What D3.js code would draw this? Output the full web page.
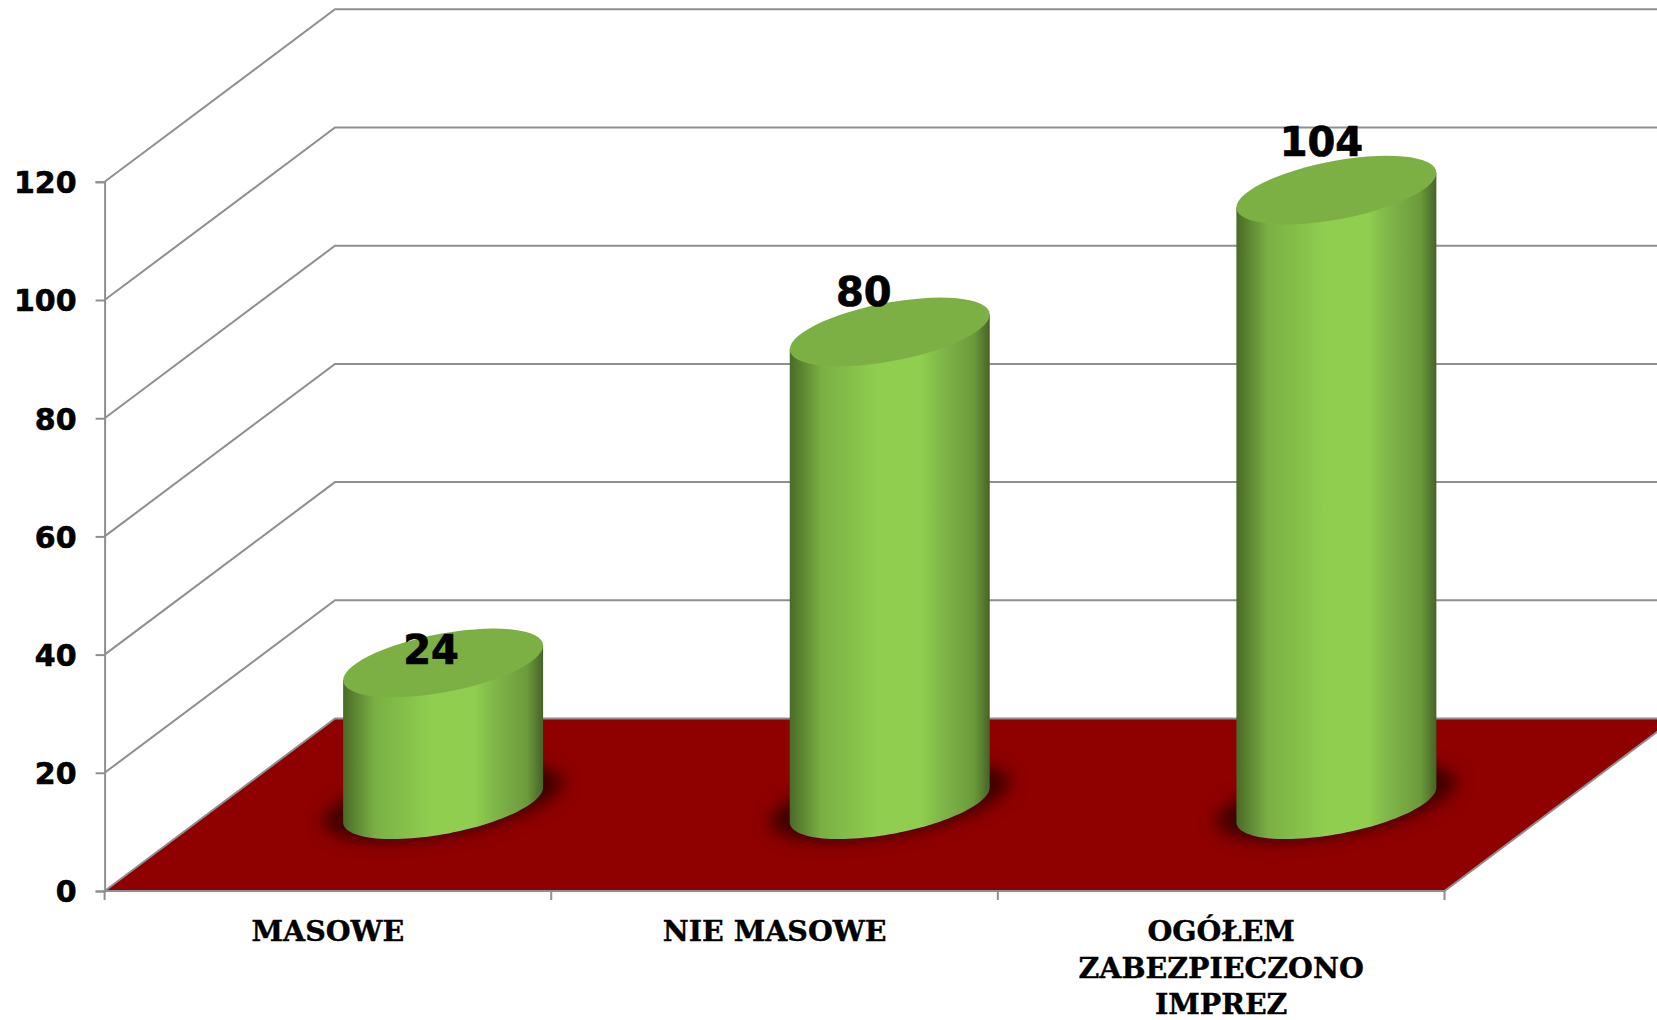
<!DOCTYPE html>
<html>
<head>
<meta charset="utf-8">
<script src="https://cdn.jsdelivr.net/npm/d3@7"></script>
<style>
    html, body { margin: 0; padding: 0; background: #fff; overflow: hidden; }
    .ylab { font-family: "DejaVu Sans"; font-weight: bold; font-size: 30px; stroke: #000; stroke-width: 0.6px; }
    .xlab { font-family: "DejaVu Serif"; font-weight: bold; font-size: 28.5px; stroke: #000; stroke-width: 0.4px; }
    .vlab { font-family: "DejaVu Sans"; font-weight: bold; font-size: 40px; stroke: #000; stroke-width: 0.7px; }
</style>
</head>
<body>
<script>
// chart data
var categories = ["MASOWE", "NIE MASOWE", "OGÓŁEM ZABEZPIECZONO IMPREZ"];
var values = [24, 80, 104];
var yTicks = [0, 20, 40, 60, 80, 100, 120];

var width = 1657, height = 1020;

// front plane of the 3d box, depth is the shift to the back wall
var x0 = 104.6, x1 = 1444.5, y0 = 891, y120 = 181.8;
var depth = {x: 230.4, y: -172.5};
var gridColor = "#8f8f8f";

var xScale = d3.scaleBand().domain(categories).range([x0, x1]);
var yScale = d3.scaleLinear().domain([0, 120]).range([y0, y120]);

var svg = d3.select("body").append("svg")
    .attr("width", width)
    .attr("height", height)
    .style("display", "block");

var defs = svg.append("defs");

// the horizontal shading of the cylinder body
var grad = defs.append("linearGradient").attr("id", "body");
[[0, "#4a6b27"], [0.16, "#7ab044"], [0.44, "#8fce4f"], [0.66, "#8fce4f"],
 [0.76, "#7fb649"], [0.92, "#6c9a3b"], [1, "#466426"]]
    .forEach(function(s) {
        grad.append("stop").attr("offset", s[0]).attr("stop-color", s[1]);
    });

defs.append("filter").attr("id", "blur")
    .attr("x", "-30%").attr("y", "-60%")
    .attr("width", "160%").attr("height", "220%")
    .append("feGaussianBlur").attr("stdDeviation", 7);

// walls: diagonal on the side wall, horizontal on the back wall
yTicks.forEach(function(v) {
    if (v === 0) return;
    var y = yScale(v);
    svg.append("path")
        .attr("d", "M" + x0 + "," + y + "L" + (x0 + depth.x) + "," + (y + depth.y)
            + "L" + width + "," + (y + depth.y))
        .attr("fill", "none")
        .attr("stroke", gridColor)
        .attr("stroke-width", 2);
});

// floor
var floor = [[x0, y0], [x0 + depth.x, y0 + depth.y],
             [x1 + depth.x, y0 + depth.y], [x1, y0]];
svg.append("polygon")
    .attr("points", floor.join(" "))
    .attr("fill", "#8f0000")
    .attr("stroke", gridColor)
    .attr("stroke-width", 2);

// y axis
var yAxis = d3.axisLeft(yScale).tickValues(yTicks).tickSize(9).tickPadding(19);
var yG = svg.append("g")
    .attr("transform", "translate(" + x0 + ",0)")
    .call(yAxis);
yG.selectAll("line").attr("stroke", gridColor).attr("stroke-width", 2);
yG.select(".domain").attr("stroke", gridColor).attr("stroke-width", 2);
yG.selectAll("text").attr("class", "ylab").attr("fill", "#000")
    .attr("dy", "0.36em").attr("font-family", null).attr("font-size", null);

// x axis, ticks sit between the categories
d3.range(categories.length + 1).forEach(function(i) {
    var x = x0 + i * xScale.step();
    svg.append("line")
        .attr("x1", x).attr("x2", x)
        .attr("y1", y0).attr("y2", y0 + 9)
        .attr("stroke", gridColor)
        .attr("stroke-width", 2);
});

// the tilted ellipse of a cylinder cap
var rx = 100, ryB = 29.6, tilt = 17.4;
function capPoint(cx, cy, t) {
    return [cx + rx * Math.cos(t), cy + ryB * Math.sin(t) - tilt * Math.cos(t)];
}
var line = d3.line();
function capPath(cx, cy, from, to) {
    return d3.range(0, 61).map(function(i) {
        return capPoint(cx, cy, from + (to - from) * i / 60);
    });
}

// nudges of the value labels from the middle of the cap
var labelNudge = [[-12, 1], [-26, -26], [-15, -34]];

categories.forEach(function(c, i) {
    var cx = xScale(c) + xScale.bandwidth() / 2 + depth.x / 2;
    var yBase = yScale(0) + depth.y / 2;
    var yTop = yBase - (yScale(0) - yScale(values[i]));

    // contact shadow on the floor
    svg.append("path")
        .attr("d", line(capPath(cx, yBase - 3, 0, 2 * Math.PI)) + "Z")
        .attr("transform", "translate(" + cx + "," + (yBase - 3) + ") scale(1.2,1.15) translate("
            + (-cx) + "," + (3 - yBase) + ")")
        .attr("fill", "#3f0000")
        .attr("filter", "url(#blur)");

    // body: the lower half of the base, then straight up to the top
    var lower = capPath(cx, yBase, 0, Math.PI);
    svg.append("path")
        .attr("d", "M" + capPoint(cx, yTop, 0) + "L" + lower.join("L")
            + "L" + capPoint(cx, yTop, Math.PI) + "Z")
        .attr("fill", "url(#body)");

    svg.append("path")
        .attr("d", line(capPath(cx, yTop, 0, 2 * Math.PI)) + "Z")
        .attr("fill", "#7db044");

    svg.append("text")
        .attr("class", "vlab")
        .attr("x", cx + labelNudge[i][0])
        .attr("y", yTop + labelNudge[i][1])
        .attr("text-anchor", "middle")
        .text(values[i]);
});

// category labels, the long one is split over three lines
categories.forEach(function(c) {
    var words = c.split(" ");
    var lines = words.length > 2 ? words : [c];
    lines.forEach(function(t, j) {
        svg.append("text")
            .attr("class", "xlab")
            .attr("x", xScale(c) + xScale.bandwidth() / 2)
            .attr("y", 941 + j * 36.5)
            .attr("text-anchor", "middle")
            .text(t);
    });
});
</script>
</body>
</html>
